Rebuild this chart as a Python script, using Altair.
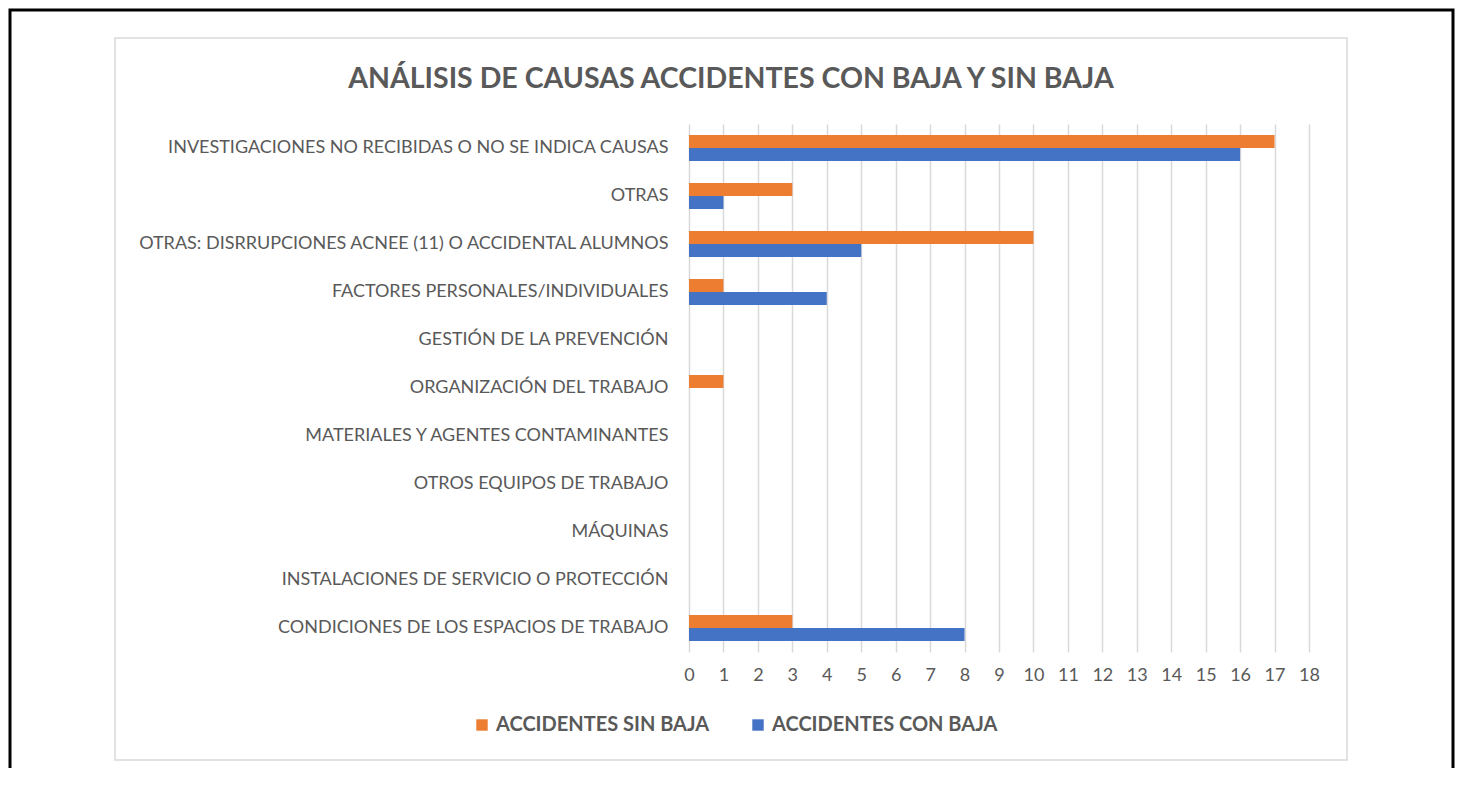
import altair as alt
import pandas as pd

categories = [
    "INVESTIGACIONES NO RECIBIDAS O NO SE INDICA CAUSAS",
    "OTRAS",
    "OTRAS: DISRRUPCIONES ACNEE (11) O ACCIDENTAL ALUMNOS",
    "FACTORES PERSONALES/INDIVIDUALES",
    "GESTIÓN DE LA PREVENCIÓN",
    "ORGANIZACIÓN DEL TRABAJO",
    "MATERIALES Y AGENTES CONTAMINANTES",
    "OTROS EQUIPOS DE TRABAJO",
    "MÁQUINAS",
    "INSTALACIONES DE SERVICIO O PROTECCIÓN",
    "CONDICIONES DE LOS ESPACIOS DE TRABAJO",
]
sin_baja = [17, 3, 10, 1, 0, 1, 0, 0, 0, 0, 3]
con_baja = [16, 1, 5, 4, 0, 0, 0, 0, 0, 0, 8]
series_names = ["ACCIDENTES SIN BAJA", "ACCIDENTES CON BAJA"]
series_colors = ["#ED7D31", "#4472C4"]
title_text = "ANÁLISIS DE CAUSAS ACCIDENTES CON BAJA Y SIN BAJA"
x_ticks = list(range(0, 19))

rows = []
for c, a, b in zip(categories, sin_baja, con_baja):
    rows.append({"causa": c, "serie": series_names[0], "valor": a})
    rows.append({"causa": c, "serie": series_names[1], "valor": b})
df = pd.DataFrame(rows)

FONT = "Lato"
GREY = "#595959"

bars = alt.Chart(df).mark_bar().encode(
    x=alt.X(
        "valor:Q",
        scale=alt.Scale(domain=[0, 18], nice=False),
        axis=alt.Axis(
            values=x_ticks, title=None, grid=True, gridColor="#d9d9d9", gridWidth=1.5,
            domain=False, ticks=False, labelPadding=14, labelFontSize=18,
            labelColor=GREY, labelFont=FONT, labelFlush=False, labelOverlap=False,
        ),
    ),
    y=alt.Y(
        "causa:N", sort=categories,
        scale=alt.Scale(paddingInner=0.46, paddingOuter=0.23),
        axis=alt.Axis(
            title=None, domain=False, ticks=False, labelPadding=21, labelFontSize=18,
            labelColor=GREY, labelFont=FONT, labelLimit=0,
        ),
    ),
    yOffset=alt.YOffset("serie:N", sort=series_names),
    color=alt.Color(
        "serie:N", sort=series_names,
        scale=alt.Scale(domain=series_names, range=series_colors),
        legend=alt.Legend(
            orient="none", legendX=-217, legendY=591, direction="horizontal", title=None,
            symbolType="square", symbolSize=130, symbolStrokeWidth=0,
            labelFont=FONT, labelFontWeight="bold", labelFontSize=20, labelColor=GREY,
            columnPadding=38, labelOffset=4, labelLimit=0,
        ),
    ),
)

one = alt.Data(values=[{"k": 0}])
inner_frame = alt.Chart(one).mark_rect(fill="transparent", stroke="#d9d9d9", strokeWidth=1.5).encode(
    x=alt.value(-574), x2=alt.value(658), y=alt.value(-86), y2=alt.value(636)
)
outer_frame = alt.Chart(one).mark_rect(fill="transparent", stroke="#000000", strokeWidth=3).encode(
    x=alt.value(-679), x2=alt.value(764), y=alt.value(-114), y2=alt.value(700)
)
title = alt.Chart(alt.Data(values=[{"t": title_text}])).mark_text(
    font=FONT, fontSize=28.5, fontWeight="bold", color=GREY, align="center", baseline="middle"
).encode(text="t:N", x=alt.value(42), y=alt.value(-45))

chart = alt.layer(outer_frame, inner_frame, bars, title).properties(
    width=620, height=528,
    autosize=alt.AutoSizeParams(type="none"),
    padding={"left": 681, "top": 116, "right": 146, "bottom": 116},
    background="white",
).configure_view(stroke=None)

chart.save("out.html", embed_options={"renderer": "svg", "actions": False})
